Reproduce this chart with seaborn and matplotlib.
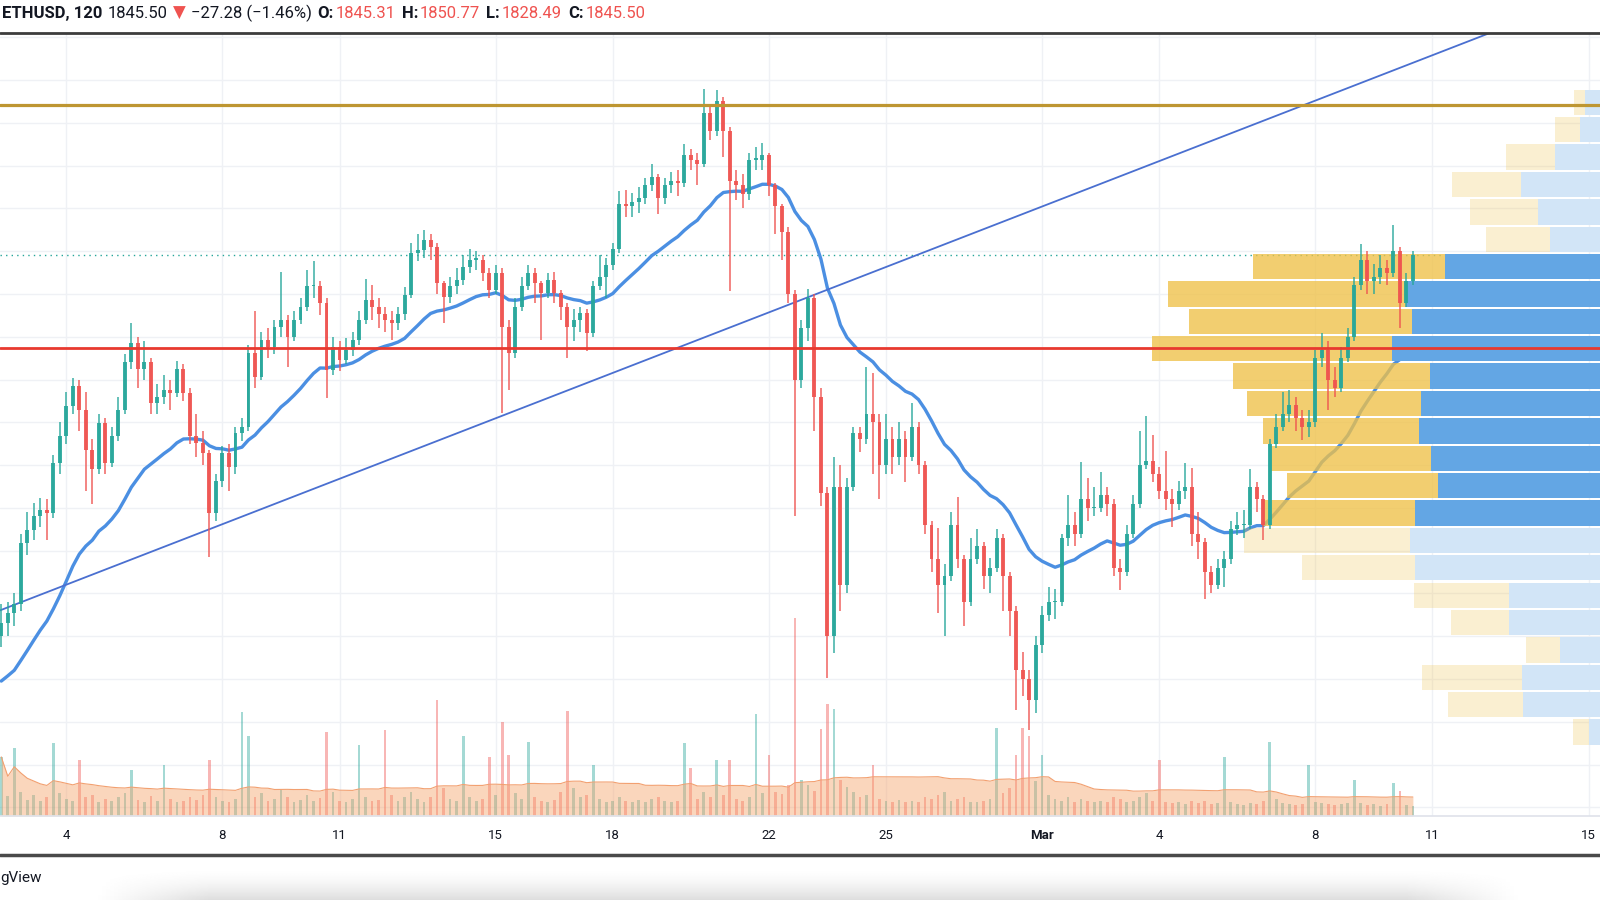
import pandas as pd
import numpy as np
import matplotlib
matplotlib.use("Agg")
import matplotlib.pyplot as plt
import matplotlib.dates as mdates
import seaborn as sns

# ----------------------------
# ETHUSD bars (4h)
# ----------------------------
start = "2021-02-02 08:00"
first_open = 1400

close = [1415, 1427, 1438, 1509, 1524, 1540, 1548, 1544, 1602, 1634,
         1669, 1692, 1665, 1618, 1595, 1649, 1602, 1634, 1665, 1720,
         1743, 1712, 1720, 1673, 1680, 1688, 1684, 1712, 1684, 1634,
         1626, 1614, 1544, 1582, 1614, 1598, 1637, 1645, 1731, 1703,
         1746, 1738, 1762, 1770, 1750, 1770, 1785, 1809, 1809, 1789,
         1711, 1738, 1723, 1735, 1746, 1770, 1793, 1785, 1777, 1770,
         1766, 1777, 1799, 1848, 1851, 1863, 1855, 1813, 1797, 1809,
         1816, 1832, 1840, 1840, 1824, 1805, 1824, 1762, 1731, 1785,
         1809, 1824, 1813, 1801, 1816, 1801, 1785, 1762, 1770, 1778,
         1754, 1809, 1820, 1834, 1852, 1905, 1903, 1907, 1912, 1927,
         1937, 1912, 1927, 1932, 1930, 1962, 1957, 1952, 2011, 1991,
         2026, 1991, 1932, 1927, 1917, 1957, 1957, 1962, 1927, 1903,
         1873, 1800, 1700, 1760, 1795, 1680, 1567, 1400, 1575, 1460,
         1575, 1637, 1630, 1660, 1650, 1600, 1630, 1610, 1630, 1610,
         1645, 1600, 1530, 1490, 1460, 1470, 1530, 1490, 1440, 1490,
         1505, 1470, 1480, 1515, 1470, 1430, 1360, 1350, 1325, 1390,
         1425, 1440, 1440, 1515, 1530, 1520, 1560, 1550, 1550, 1565,
         1555, 1480, 1475, 1520, 1555, 1600, 1605, 1590, 1570, 1560,
         1555, 1570, 1575, 1520, 1510, 1475, 1460, 1480, 1490, 1525,
         1530, 1530, 1575, 1560, 1530, 1625, 1645, 1660, 1670, 1655,
         1645, 1650, 1725, 1735, 1700, 1690, 1725, 1750, 1810, 1840,
         1815, 1820, 1830, 1825, 1850, 1790, 1815, 1845.5]

high = [1438, 1440, 1450, 1520, 1545, 1556, 1562, 1560, 1612, 1650,
        1685, 1702, 1700, 1685, 1630, 1660, 1655, 1645, 1680, 1730,
        1766, 1750, 1745, 1725, 1695, 1705, 1700, 1722, 1718, 1690,
        1660, 1640, 1618, 1590, 1622, 1625, 1645, 1655, 1740, 1780,
        1755, 1760, 1770, 1826, 1775, 1780, 1795, 1828, 1839, 1815,
        1795, 1750, 1745, 1748, 1755, 1780, 1818, 1810, 1795, 1785,
        1780, 1785, 1808, 1860, 1870, 1875, 1870, 1860, 1815, 1820,
        1830, 1845, 1852, 1850, 1845, 1830, 1834, 1830, 1770, 1795,
        1820, 1834, 1830, 1815, 1825, 1826, 1805, 1790, 1782, 1785,
        1782, 1815, 1845, 1842, 1860, 1920, 1921, 1918, 1925, 1935,
        1952, 1940, 1935, 1942, 1945, 1975, 1970, 1965, 2040, 2020,
        2038, 2030, 1995, 1945, 1940, 1965, 1972, 1976, 1965, 1930,
        1905, 1878, 1805, 1770, 1806, 1800, 1690, 1575, 1610, 1600,
        1585, 1645, 1645, 1715, 1708, 1660, 1660, 1645, 1650, 1640,
        1673, 1650, 1605, 1535, 1527, 1485, 1545, 1563, 1495, 1515,
        1525, 1510, 1492, 1525, 1520, 1475, 1435, 1382, 1360, 1400,
        1435, 1458, 1455, 1520, 1565, 1545, 1604, 1585, 1575, 1592,
        1575, 1560, 1490, 1530, 1565, 1640, 1657, 1635, 1598, 1617,
        1572, 1582, 1602, 1597, 1545, 1515, 1482, 1490, 1500, 1535,
        1545, 1548, 1596, 1580, 1565, 1630, 1660, 1686, 1688, 1680,
        1665, 1665, 1735, 1754, 1745, 1715, 1738, 1760, 1820, 1859,
        1850, 1835, 1845, 1840, 1881, 1855, 1825, 1850.77]

low = [1388, 1400, 1412, 1430, 1495, 1512, 1528, 1512, 1538, 1590,
       1625, 1660, 1640, 1570, 1555, 1590, 1590, 1598, 1628, 1660,
       1712, 1690, 1700, 1660, 1660, 1672, 1665, 1680, 1675, 1625,
       1610, 1600, 1493, 1535, 1575, 1570, 1590, 1628, 1640, 1690,
       1700, 1725, 1730, 1750, 1715, 1745, 1765, 1780, 1795, 1775,
       1678, 1705, 1710, 1718, 1728, 1740, 1765, 1770, 1760, 1755,
       1746, 1758, 1770, 1795, 1838, 1842, 1840, 1800, 1766, 1790,
       1800, 1810, 1825, 1828, 1815, 1795, 1800, 1661, 1688, 1725,
       1780, 1805, 1790, 1746, 1795, 1790, 1770, 1725, 1745, 1755,
       1733, 1750, 1805, 1795, 1828, 1848, 1890, 1890, 1895, 1905,
       1920, 1893, 1905, 1918, 1915, 1925, 1945, 1927, 1948, 1980,
       1985, 1960, 1804, 1910, 1900, 1910, 1945, 1945, 1915, 1870,
       1840, 1790, 1541, 1690, 1745, 1640, 1552, 1351, 1380, 1430,
       1450, 1570, 1615, 1625, 1590, 1560, 1590, 1590, 1600, 1580,
       1605, 1590, 1520, 1475, 1427, 1400, 1465, 1480, 1412, 1435,
       1485, 1455, 1450, 1475, 1430, 1400, 1314, 1330, 1291, 1310,
       1380, 1418, 1420, 1435, 1505, 1505, 1515, 1535, 1540, 1545,
       1540, 1470, 1454, 1470, 1515, 1550, 1595, 1580, 1560, 1548,
       1528, 1548, 1560, 1505, 1490, 1443, 1450, 1455, 1458, 1485,
       1518, 1515, 1525, 1545, 1513, 1525, 1620, 1640, 1650, 1640,
       1629, 1633, 1645, 1715, 1665, 1680, 1685, 1720, 1745, 1805,
       1800, 1800, 1812, 1810, 1820, 1760, 1785, 1810]

volume = [58, 20, 67, 24, 16, 21, 15, 19, 72, 23,
          17, 15, 55, 19, 21, 14, 17, 15, 19, 23,
          45, 16, 14, 20, 15, 50, 17, 14, 15, 19,
          16, 21, 55, 19, 15, 14, 17, 102, 78, 19,
          23, 15, 17, 26, 19, 14, 16, 21, 15, 18,
          82, 24, 15, 14, 17, 70, 19, 15, 16, 84,
          21, 15, 19, 24, 17, 14, 19, 114, 27, 17,
          15, 78, 19, 15, 17, 58, 21, 92, 60, 23,
          17, 73, 19, 15, 14, 16, 24, 103, 27, 19,
          21, 50, 17, 14, 15, 19, 15, 14, 16, 14,
          17, 19, 15, 14, 15, 72, 47, 17, 24, 19,
          55, 21, 55, 17, 15, 19, 100, 23, 60, 24,
          22, 30, 194, 35, 30, 25, 85, 110, 105, 35,
          28, 24, 19, 21, 50, 17, 15, 14, 16, 14,
          15, 14, 19, 17, 21, 24, 15, 17, 19, 14,
          14, 15, 17, 86, 23, 27, 60, 86, 78, 34,
          60, 21, 17, 15, 19, 14, 17, 15, 14, 15,
          14, 19, 17, 14, 15, 19, 23, 15, 55, 14,
          13, 14, 12, 15, 13, 15, 12, 13, 58, 14,
          12, 11, 13, 12, 15, 73, 17, 13, 12, 11,
          12, 50, 14, 13, 12, 11, 12, 13, 35, 13,
          11, 12, 10, 12, 32, 25, 11, 10]

ma_seed = 1342
ma_span = 25
vol_ma_len = 40

# volume profile rows, top to bottom
vp_top = 2040
vp_row = 32
vp_down = [10, 24, 48, 68, 66, 63, 188, 233, 219, 235, 193, 171,
           153, 156, 148, 149, 163, 111, 93, 57, 34, 98, 74, 15]
vp_up = [15, 20, 44, 77, 61, 49, 152, 190, 184, 204, 167, 175,
         177, 166, 159, 181, 186, 181, 89, 89, 39, 76, 75, 11]
value_area = (6, 16)

level_gold = 2020.7
level_red = 1737
last_price = 1845.50
trend_a = ("2021-02-08", 1531)
trend_b = ("2021-03-08", 2026)

tick_dates = ["2021-02-04", "2021-02-08", "2021-02-11", "2021-02-15",
              "2021-02-18", "2021-02-22", "2021-02-25", "2021-03-01",
              "2021-03-04", "2021-03-08", "2021-03-11", "2021-03-15"]
tick_labels = ["4", "8", "11", "15", "18", "22", "25", "Mar", "4", "8", "11", "15"]

header = [("ETHUSD, 120", "#131722", "bold", 5),
          ("1845.50", "#131722", "normal", 5),
          ("\u25bc", "#ef5350", "normal", 5),
          ("\u221227.28 (\u22121.46%)", "#131722", "normal", 6),
          ("O:", "#131722", "bold", 2),
          ("1845.31", "#ef5350", "normal", 6),
          ("H:", "#131722", "bold", 2),
          ("1850.77", "#ef5350", "normal", 6),
          ("L:", "#131722", "bold", 2),
          ("1828.49", "#ef5350", "normal", 6),
          ("C:", "#131722", "bold", 2),
          ("1845.50", "#ef5350", "normal", 0)]

UP = "#26a69a"
DOWN = "#ef5350"

# ----------------------------
# Figure
# ----------------------------
sns.set_theme(style="white")
plt.rcParams["font.family"] = ["Roboto", "DejaVu Sans"]

fig = plt.figure(figsize=(16, 9), dpi=100)
ax = fig.add_axes([0, 0.0933, 1, 0.8704])

times = pd.date_range(start, periods=len(close), freq="4h")
x = mdates.date2num(times)
c = np.array(close, dtype=float)
o = np.array([first_open] + close[:-1], dtype=float)
h = np.array(high, dtype=float)
l = np.array(low, dtype=float)
is_up = c >= o
colors = np.where(is_up, UP, DOWN)

ax.set_xlim(mdates.date2num(pd.Timestamp("2021-02-02 07:13")),
            mdates.date2num(pd.Timestamp("2021-03-15 07:03")))
ax.set_ylim(1189.9, 2105.4)

# grid
ax.set_yticks(np.arange(1200, 2101, 50))
ax.set_xticks(mdates.date2num(pd.to_datetime(tick_dates)))
ax.set_xticklabels(tick_labels)
ax.grid(True, color="#eff1f5", lw=1, zorder=0)
ax.tick_params(axis="y", left=False, labelleft=False)
ax.tick_params(axis="x", length=4, width=1, color="#d6d9e0", pad=5,
               labelsize=9.5, labelcolor="#131722")
for lbl in ax.get_xticklabels():
    if lbl.get_text() == "Mar":
        lbl.set_fontweight("bold")
for s in ["top", "left", "right"]:
    ax.spines[s].set_visible(False)
ax.spines["bottom"].set_color("#e0e3eb")

# volume with its moving average
vol_scale = 768
xtr = ax.get_xaxis_transform()
vol_frac = np.array(volume) / vol_scale
ax.bar(x, vol_frac, width=0.07, bottom=0, color=colors, alpha=0.42,
       transform=xtr, zorder=1, linewidth=0)
vol_ma = pd.Series(volume).rolling(vol_ma_len, min_periods=1).mean() / vol_scale
ax.fill_between(x, 0, vol_ma, color="#f6a46c", alpha=0.45, transform=xtr,
                zorder=1.2, linewidth=0)
ax.plot(x, vol_ma, color="#f2a070", lw=0.8, transform=xtr, zorder=1.3)

# current price and moving average
ax.axhline(last_price, color=UP, ls=(0, (1, 3)), lw=1, zorder=1.5)
ma = pd.Series([ma_seed] + close).ewm(span=ma_span, adjust=False).mean().iloc[1:]
sns.lineplot(x=x, y=ma.values, ax=ax, color="#4b8fe2", lw=2.4, zorder=2)

# volume profile on the right edge
vp_scale = 1568
ytr = ax.get_yaxis_transform()
rows = np.arange(len(vp_up))
row_mid = vp_top - vp_row * (rows + 0.5)
in_va = (rows >= value_area[0]) & (rows < value_area[1])
up_f = np.array(vp_up) / vp_scale
dn_f = np.array(vp_down) / vp_scale
ax.barh(row_mid, up_f, left=1 - up_f, height=vp_row - 2.4,
        color=np.where(in_va, "#63a6e4", "#d2e5f7"), transform=ytr,
        zorder=3, linewidth=0)
for alpha, mask in [(0.78, in_va), (0.25, ~in_va)]:
    ax.barh(row_mid[mask], dn_f[mask], left=(1 - up_f - dn_f)[mask],
            height=vp_row - 2.4, color="#efc148", alpha=alpha,
            transform=ytr, zorder=3, linewidth=0)

# trend line and levels
ax.axline((mdates.date2num(pd.Timestamp(trend_a[0])), trend_a[1]),
          (mdates.date2num(pd.Timestamp(trend_b[0])), trend_b[1]),
          color="#4a6fd0", lw=1.3, zorder=4)
ax.axhline(level_gold, color="#be9632", lw=2.3, zorder=7)
ax.axhline(level_red, color="#e8392f", lw=2.0, zorder=7)

# candles
ax.vlines(x, l, h, colors=colors, lw=1.1, alpha=0.9, zorder=5)
ax.bar(x, np.maximum(np.abs(c - o), 1.5), bottom=np.minimum(o, c), width=0.1,
       color=colors, alpha=0.9, zorder=6, linewidth=0)

ax.set_xlabel("")
ax.set_ylabel("")

# frame lines
fig.add_artist(plt.Line2D([0, 1], [0.9637, 0.9637], color="#3c3c3c", lw=2))
fig.add_artist(plt.Line2D([0, 1], [0.05, 0.05], color="#4a4a4a", lw=2.5))

# header text
renderer = fig.canvas.get_renderer()
hx = 0.0015
for txt, col, weight, gap in header:
    t = fig.text(hx, 0.985, txt, color=col, fontweight=weight, fontsize=12,
                 va="center", ha="left", family=["Roboto", "DejaVu Sans"])
    bb = t.get_window_extent(renderer)
    hx += (bb.width + gap) / fig.bbox.width

fig.text(0.0, 0.024, "gView", fontsize=11, color="#131722", va="center", ha="left")

# soft shadow at the bottom edge
sax = fig.add_axes([0, 0, 1, 0.035], zorder=-1)
gy = np.linspace(0, 1, 40) ** 1.6
gx = np.linspace(0, 1, 400)
env = np.clip((gx - 0.06) / 0.07, 0, 1) * np.clip((0.95 - gx) / 0.07, 0, 1)
sax.imshow(1 - 0.13 * gy[:, None] * env[None, :], cmap="gray", vmin=0, vmax=1,
           aspect="auto")
sax.axis("off")

fig.savefig("out.png", dpi=100)
